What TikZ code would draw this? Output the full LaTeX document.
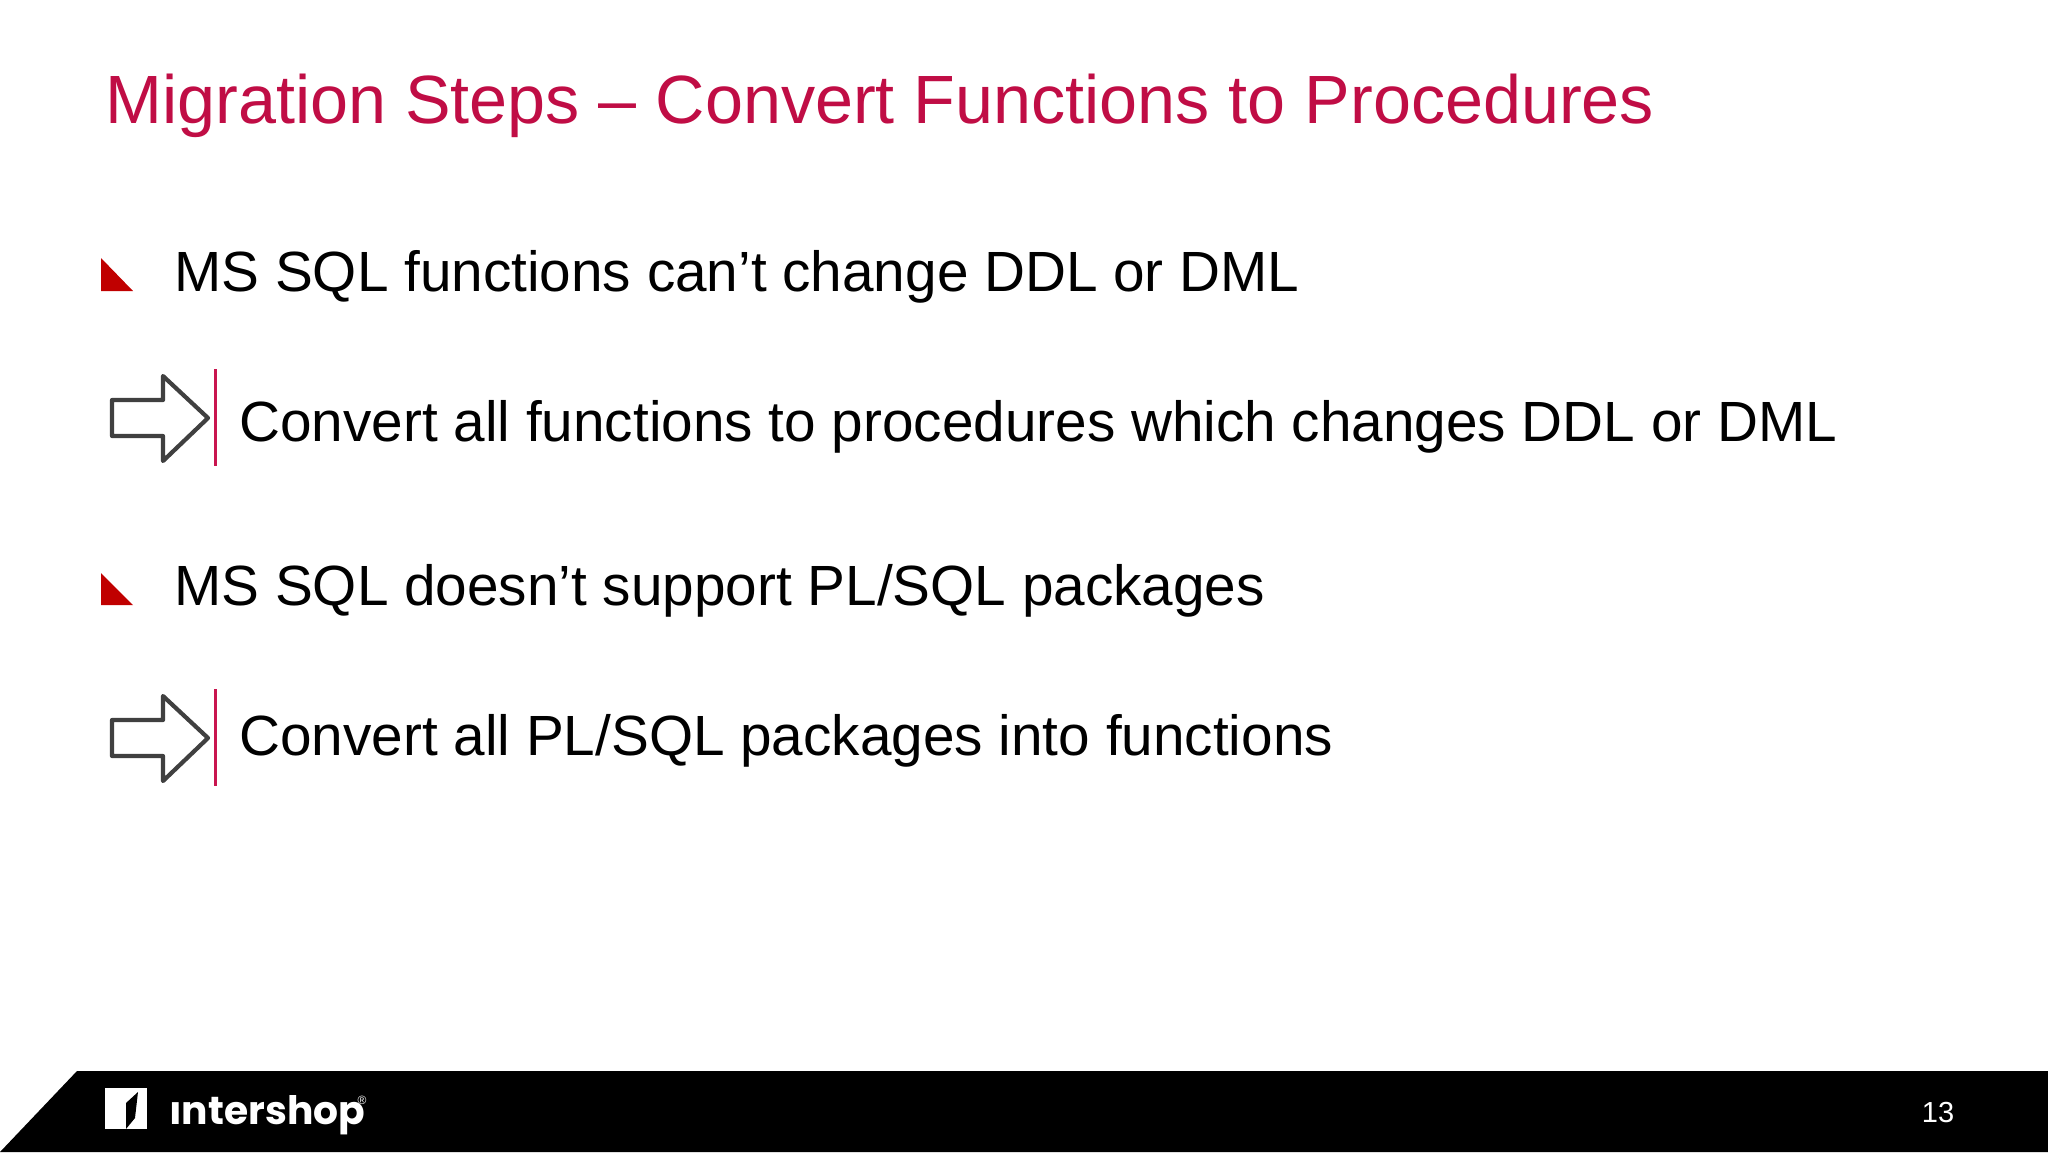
\documentclass[tikz,border=0pt]{standalone}
\usepackage{fontspec}
\setmainfont{Liberation Sans}
\newfontfamily\logofont{Poppins}
\definecolor{titlered}{HTML}{C00D45}
\definecolor{bulletred}{HTML}{C00000}
\definecolor{barred}{HTML}{C9154F}
\definecolor{arrowgray}{HTML}{404040}
\tikzset{
  title/.style={anchor=base west, text=titlered, font=\fontsize{34.15pt}{40pt}\selectfont, inner sep=0pt},
  body/.style={anchor=base west, text=black, font=\fontsize{28.35pt}{34pt}\selectfont, inner sep=0pt},
  bullet/.style={fill=bulletred},
  hollowarrow/.style={draw=arrowgray, line width=2.1pt, line join=round, fill=white},
  redbar/.style={draw=barred, line width=1.5pt},
}
\begin{document}
\begin{tikzpicture}[x=0.5pt,y=-0.5pt]
            \useasboundingbox (0,0) rectangle (2048,1152);
            \fill[white] (0,0) rectangle (2048,1152);

            \node(title) at (105,123) [title] {Migration Steps – Convert Functions to Procedures};

            % first pair
            \fill[bullet] (101,258) -- (133,291) -- (101,291) -- cycle;
            \node(item1) at (174,291) [body] {MS SQL functions can’t change DDL or DML};
            \draw[hollowarrow] (112,400) -- (163,400) -- (163,376) -- (208,418) -- (163,461) -- (163,436) -- (112,436) -- cycle;
            \node(bar1a) at (215,368) [inner sep=0pt] {};
            \node(bar1b) at (215,467) [inner sep=0pt] {};
            \draw[redbar] (bar1a) -- (bar1b);
            \node(todo1) at (239,441) [body] {Convert all functions to procedures which changes DDL or DML};

            % second pair
            \fill[bullet] (101,573) -- (133,605) -- (101,605) -- cycle;
            \node(item2) at (174,605) [body] {MS SQL doesn’t support PL/SQL packages};
            \draw[hollowarrow] (112,720) -- (163,720) -- (163,696) -- (208,738) -- (163,781) -- (163,756) -- (112,756) -- cycle;
            \node(bar2a) at (215,688) [inner sep=0pt] {};
            \node(bar2b) at (215,787) [inner sep=0pt] {};
            \draw[redbar] (bar2a) -- (bar2b);
            \node(todo2) at (239,755) [body] {Convert all PL/SQL packages into functions};

            % footer
            \fill[black] (77,1071) -- (2048,1071) -- (2048,1152) -- (0,1152) -- cycle;
            \fill[white] (105,1088) rectangle (147,1129);
            \fill[black] (126,1129) -- (126,1103) -- (138,1092) -- (135,1118) -- cycle;
            \node(logo) at (169,1124) [anchor=base west, inner sep=0pt, text=white, font=\logofont\bfseries\fontsize{19.6pt}{24pt}\selectfont] {ıntershop};
            \node(reg) at (362,1104) [anchor=base, inner sep=0pt, text=white, font=\fontsize{6pt}{7pt}\selectfont] {®};
            \node(page) at (1938,1122) [anchor=base, inner sep=0pt, text=white, font=\fontsize{14.5pt}{16pt}\selectfont] {13};
        \end{tikzpicture}
\end{document}
